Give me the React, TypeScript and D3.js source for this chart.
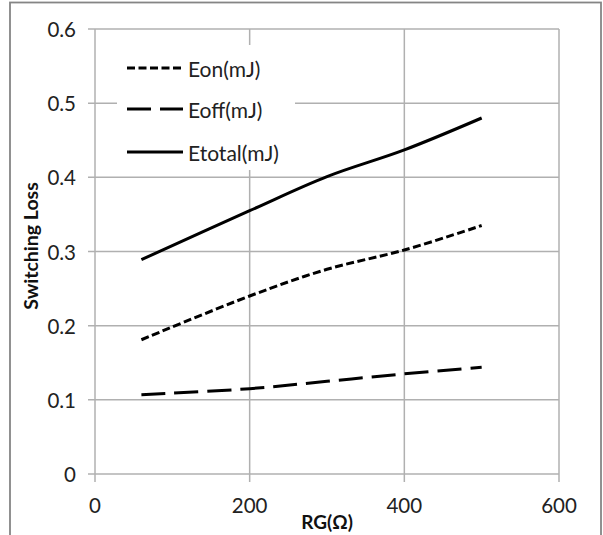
import React from "react";
import * as d3 from "d3";

const rg = [60, 200, 300, 400, 500];
const eon = [0.181, 0.24, 0.276, 0.302, 0.335];
const eoff = [0.107, 0.115, 0.125, 0.135, 0.144];
const etotal = [0.289, 0.355, 0.401, 0.437, 0.48];
const xTicks = [0, 200, 400, 600];
const yTicks = [0, 0.1, 0.2, 0.3, 0.4, 0.5, 0.6];
const seriesNames = ["Eon(mJ)", "Eoff(mJ)", "Etotal(mJ)"];

const W = 603;
const H = 535;
const FONT = "Lato, 'Open Sans', sans-serif";

export default function App() {
  const x = d3.scaleLinear().domain([0, 600]).range([95, 559]);
  const y = d3.scaleLinear().domain([0, 0.6]).range([474, 29]);
  const line = d3
    .line<[number, number]>()
    .x((d) => x(d[0]))
    .y((d) => y(d[1]))
    .curve(d3.curveCatmullRom.alpha(0.5));

  const series = [
    { name: seriesNames[0], values: eon, dash: "8 3.5" },
    { name: seriesNames[1], values: eoff, dash: "24 9" },
    { name: seriesNames[2], values: etotal, dash: "none" },
  ];

  const legendX = 127;
  const legendY = [68, 109, 152];

  return (
    <svg
      width={W}
      height={H}
      style={{ position: "absolute", left: 0, top: 0, background: "#fff" }}
    >
      <rect x={0} y={0} width={W} height={H} fill="#fff" />
      <rect
        x={10}
        y={2.5}
        width={591}
        height={545}
        fill="none"
        stroke="#858585"
        strokeWidth={1.8}
      />
      {yTicks.map((t) => (
        <line
          key={"gy" + t}
          x1={88}
          x2={x(600)}
          y1={y(t)}
          y2={y(t)}
          stroke="#b0b0b0"
          strokeWidth={1.5}
        />
      ))}
      {xTicks.map((t) => (
        <line
          key={"gx" + t}
          x1={x(t)}
          x2={x(t)}
          y1={y(0.6)}
          y2={482}
          stroke="#b0b0b0"
          strokeWidth={1.5}
        />
      ))}
      <rect x={117} y={45} width={178} height={125} fill="#fff" />
      {yTicks.map((t) => (
        <text
          key={"ly" + t}
          x={76}
          y={y(t)}
          textAnchor="end"
          dominantBaseline="central"
          fontFamily={FONT}
          fontSize={20.5}
          fill="#222"
        >
          {t === 0 ? "0" : t.toFixed(1)}
        </text>
      ))}
      {xTicks.map((t) => (
        <text
          key={"lx" + t}
          x={x(t)}
          y={505}
          textAnchor="middle"
          dominantBaseline="central"
          fontFamily={FONT}
          fontSize={20.5}
          fill="#222"
        >
          {t}
        </text>
      ))}
      <text
        x={327}
        y={521}
        textAnchor="middle"
        dominantBaseline="central"
        fontFamily={FONT}
        fontWeight="bold"
        fontSize={19}
        fill="#111"
      >
        RG(Ω)
      </text>
      <text
        transform={`translate(30,246) rotate(-90)`}
        textAnchor="middle"
        dominantBaseline="central"
        fontFamily={FONT}
        fontWeight="bold"
        fontSize={19.5}
        fill="#111"
      >
        Switching Loss
      </text>
      {series.map((s) => (
        <path
          key={s.name}
          d={line(rg.map((v, i) => [v, s.values[i]] as [number, number])) || ""}
          fill="none"
          stroke="#000"
          strokeWidth={3}
          strokeDasharray={s.dash}
        />
      ))}
      {series.map((s, i) => (
        <g key={"lg" + s.name}>
          <line
            x1={legendX}
            x2={legendX + 56}
            y1={legendY[i]}
            y2={legendY[i]}
            stroke="#000"
            strokeWidth={3}
            strokeDasharray={s.dash}
          />
          <text
            x={legendX + 61}
            y={legendY[i]}
            dominantBaseline="central"
            fontFamily={FONT}
            fontSize={21}
            fill="#222"
          >
            {s.name}
          </text>
        </g>
      ))}
    </svg>
  );
}
